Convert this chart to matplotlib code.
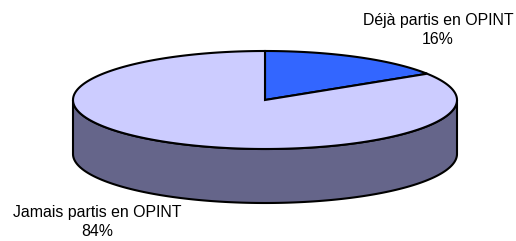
import numpy as np
import matplotlib
matplotlib.use("Agg")
import matplotlib.pyplot as plt
from matplotlib.patches import Polygon

labels = ["Déjà partis en OPINT", "Jamais partis en OPINT"]
values = [16, 84]
colors = ["#3366FF", "#CCCCFF"]
side_color = "#65658A"

W, H = 516, 241
fig = plt.figure(figsize=(W / 100, H / 100), dpi=100)
ax = fig.add_axes([0, 0, 1, 1])
ax.set_xlim(0, W)
ax.set_ylim(H, 0)
ax.axis("off")

cx, cy, a, b, depth = 265, 100, 192, 49, 54

def ell(t):
    return cx + a * np.cos(t), cy - b * np.sin(t)

# side (front half)
t = np.linspace(np.pi, 2 * np.pi, 200)
xs, ys = ell(t)
side = np.concatenate([np.column_stack([xs, ys]), np.column_stack([xs[::-1], ys[::-1] + depth])])
ax.add_patch(Polygon(side, closed=True, facecolor=side_color, edgecolor="black", lw=1.5, joinstyle="round"))

# top slices, clockwise from 90 deg
total = sum(values)
start = np.pi / 2
for v, c in zip(values, colors):
    sweep = 2 * np.pi * v / total
    tt = np.linspace(start, start - sweep, 300)
    px, py = ell(tt)
    pts = np.vstack([[cx, cy], np.column_stack([px, py]), [cx, cy]])
    ax.add_patch(Polygon(pts, closed=True, facecolor=c, edgecolor="black", lw=1.5, joinstyle="miter"))
    start -= sweep

font = dict(family=["Liberation Sans", "DejaVu Sans"], fontsize=11.4, ha="center", va="center", linespacing=1.3)
ax.text(438, 30, f"{labels[0]}\n{values[0]}%", **font)
ax.text(97, 222, f"{labels[1]}\n{values[1]}%", **font)

fig.savefig("out.png", dpi=100)
